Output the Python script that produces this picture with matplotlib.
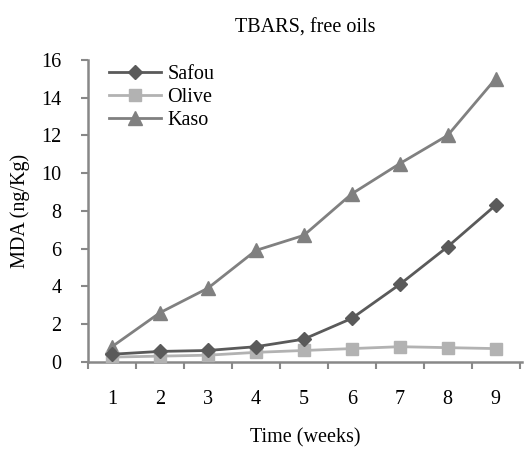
import matplotlib
matplotlib.use("Agg")
import matplotlib.pyplot as plt
import numpy as np

plt.rcParams['font.family'] = ['Liberation Serif', 'DejaVu Serif']

weeks = [1, 2, 3, 4, 5, 6, 7, 8, 9]
safou = [0.4, 0.55, 0.6, 0.8, 1.2, 2.3, 4.1, 6.1, 8.3]
olive = [0.25, 0.3, 0.35, 0.5, 0.6, 0.7, 0.8, 0.75, 0.7]
kaso = [0.8, 2.6, 3.9, 5.9, 6.7, 8.9, 10.5, 12.0, 15.0]
yticks = [0, 2, 4, 6, 8, 10, 12, 14, 16]

FS = 14.5
fig = plt.figure(figsize=(5.30, 4.50), dpi=100)
ax = fig.add_axes([0.166, 0.196, 0.819, 0.671])

ax.plot(weeks, safou, color='#5a5a5a', marker='D', markersize=7, linewidth=2, label='Safou', zorder=4)
ax.plot(weeks, olive, color='#b2b2b2', marker='s', markersize=9, linewidth=2, label='Olive', zorder=3)
ax.plot(weeks, kaso, color='#808080', marker='^', markersize=10, linewidth=2, label='Kaso', zorder=2)

ax.set_xlim(0.5, 9.55)
ax.set_ylim(0, 16)
ax.set_yticks(yticks)
ax.set_xticks(weeks)
ax.set_xticks(np.arange(0.5, 10, 1.0), minor=True)
ax.tick_params(axis='x', which='major', length=0, pad=20, labelsize=FS)
ax.tick_params(axis='x', which='minor', length=5, width=1.5, color='#888888', direction='out')
ax.tick_params(axis='y', length=5, width=1.5, color='#888888', direction='out', labelsize=FS, pad=14)

for s in ['top', 'right']:
    ax.spines[s].set_visible(False)
for s in ['left', 'bottom']:
    ax.spines[s].set_color('#888888')
    ax.spines[s].set_linewidth(1.8)

ax.set_title('TBARS, free oils', fontsize=FS, pad=20)
ax.set_xlabel('Time (weeks)', fontsize=FS, labelpad=14)
ax.set_ylabel('MDA (ng/Kg)', fontsize=FS, labelpad=8)

leg = ax.legend(loc='upper left', bbox_to_anchor=(0.03, 1.01), frameon=False, fontsize=FS,
                handlelength=2.6, handletextpad=0.3, labelspacing=0.2, borderaxespad=0)

fig.savefig('out.png', dpi=100)
